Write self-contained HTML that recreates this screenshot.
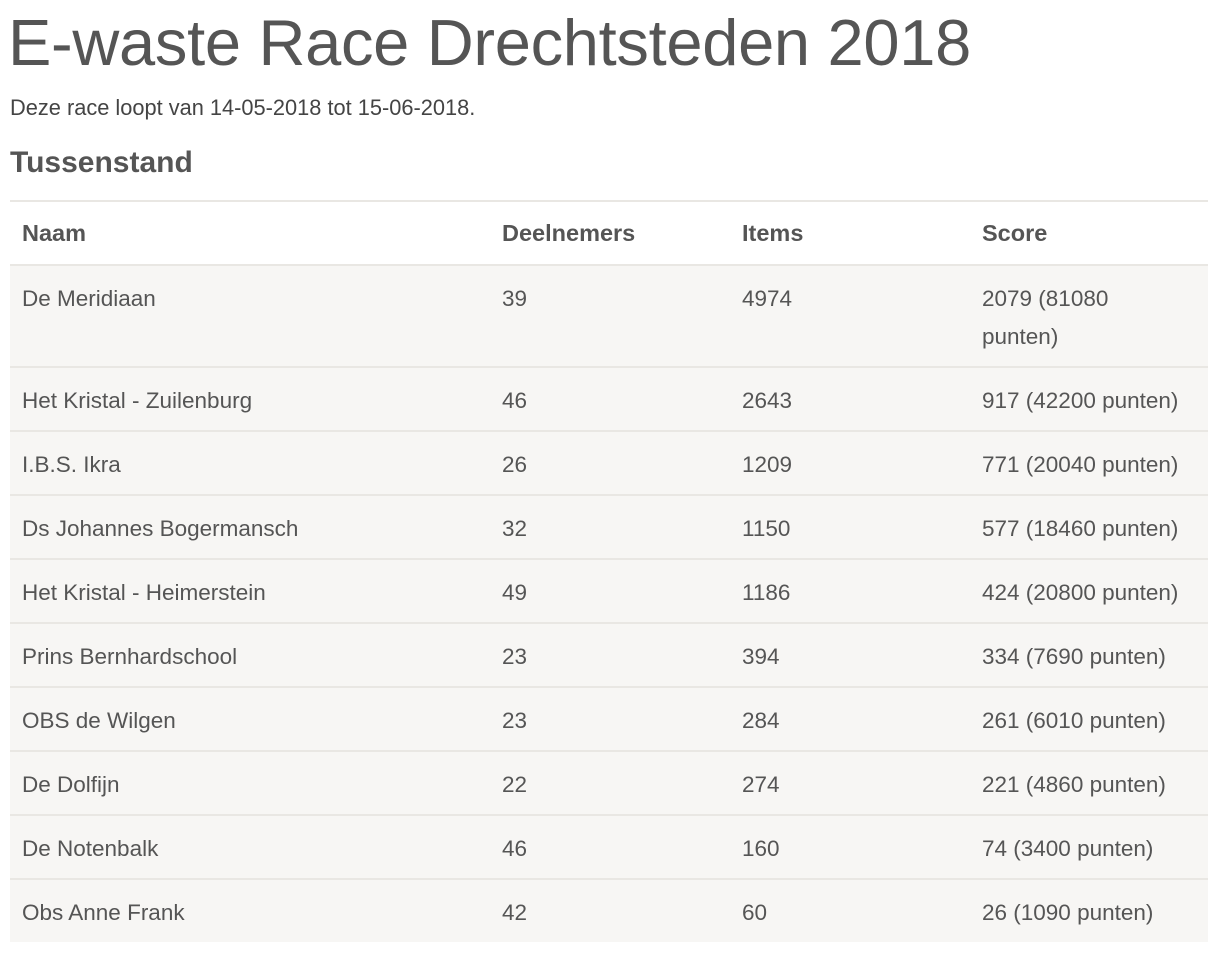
<!DOCTYPE html>
<html><head><meta charset="utf-8"><style>
body{margin:0;background:#fff;color:#555;font-family:"Liberation Sans",sans-serif;width:1228px;height:956px;overflow:hidden;position:relative}
h1{position:absolute;left:8px;top:4px;margin:0;font-weight:normal;font-size:65px;line-height:78px;color:#555;letter-spacing:-0.3px}
.sub{position:absolute;left:10px;top:94px;font-size:21.8px;line-height:28px;color:#444}
h2{position:absolute;left:10px;top:145px;margin:0;font-size:30px;line-height:36px;font-weight:bold;color:#555}
table{position:absolute;left:10px;top:200px;width:1198px;border-collapse:collapse;font-size:22.5px;color:#555}
td,th{text-align:left;padding:0 0 0 12px;vertical-align:top;border-top:2px solid #e9e7e3}
th{height:62px;line-height:62px;font-weight:bold;background:#fff;font-size:23.5px}
td{line-height:38px;padding-top:14px;height:48px;background:#f7f6f4}
tr.first td{height:86px}
</style></head><body>
<h1>E-waste Race Drechtsteden 2018</h1>
<div class="sub">Deze race loopt van 14-05-2018 tot 15-06-2018.</div>
<h2>Tussenstand</h2>
<table>
<colgroup><col style="width:480px"><col style="width:240px"><col style="width:240px"><col style="width:238px"></colgroup>
<tr><th>Naam</th><th>Deelnemers</th><th>Items</th><th>Score</th></tr>
<tr class="first"><td>De Meridiaan</td><td>39</td><td>4974</td><td>2079 (81080<br>punten)</td></tr>
<tr><td>Het Kristal - Zuilenburg</td><td>46</td><td>2643</td><td>917 (42200 punten)</td></tr>
<tr><td>I.B.S. Ikra</td><td>26</td><td>1209</td><td>771 (20040 punten)</td></tr>
<tr><td>Ds Johannes Bogermansch</td><td>32</td><td>1150</td><td>577 (18460 punten)</td></tr>
<tr><td>Het Kristal - Heimerstein</td><td>49</td><td>1186</td><td>424 (20800 punten)</td></tr>
<tr><td>Prins Bernhardschool</td><td>23</td><td>394</td><td>334 (7690 punten)</td></tr>
<tr><td>OBS de Wilgen</td><td>23</td><td>284</td><td>261 (6010 punten)</td></tr>
<tr><td>De Dolfijn</td><td>22</td><td>274</td><td>221 (4860 punten)</td></tr>
<tr><td>De Notenbalk</td><td>46</td><td>160</td><td>74 (3400 punten)</td></tr>
<tr><td>Obs Anne Frank</td><td>42</td><td>60</td><td>26 (1090 punten)</td></tr>
</table>
</body></html>
